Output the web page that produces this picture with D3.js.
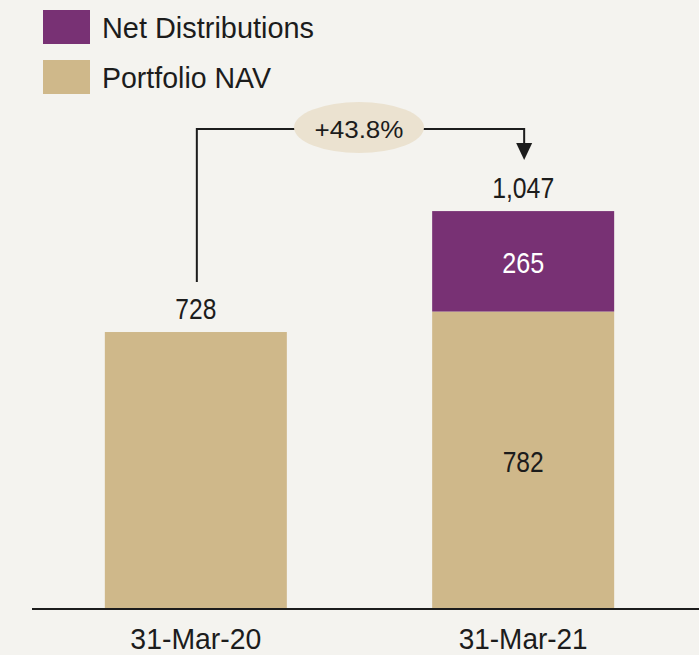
<!DOCTYPE html>
<html>
<head>
<meta charset="utf-8">
<script src="https://cdn.jsdelivr.net/npm/d3@7"></script>
<style>
  body { margin: 0; background: #f4f3ef; }
  svg text { font-family: "Liberation Sans", Arial, sans-serif; fill: #1c1c1c; }
</style>
</head>
<body>
<script>
const categories = ["31-Mar-20", "31-Mar-21"];
const portfolioNav = [728, 782];
const netDistributions = [0, 265];
const totalLabels = ["728", "1,047"];
const changeLabel = "+43.8%";
const seriesNames = ["Net Distributions", "Portfolio NAV"];

(function () {
    const width = 699;
    const height = 655;
    const purple = "#783174";
    const tan = "#cfb88a";

    // condensed look: squeeze each text to the width it has in the reference
    const squeeze = {
        "Net Distributions": 212, "Portfolio NAV": 169,
        "31-Mar-20": 131, "31-Mar-21": 129,
        "728": 41, "1,047": 62, "265": 42, "782": 41, "+43.8%": 89
    };
    function condense(sel) {
        sel.each(function () {
            let t = d3.select(this).text();
            if (squeeze[t]) {
                d3.select(this)
                    .attr("textLength", squeeze[t])
                    .attr("lengthAdjust", "spacingAndGlyphs");
            }
        });
    }

    let svg = d3.select("body")
        .append("svg")
        .attr("width", width)
        .attr("height", height);

    svg.append("rect")
        .attr("width", width)
        .attr("height", height)
        .attr("fill", "#f4f3ef");

    let rows = categories.map((c, i) => ({cat: c, nav: portfolioNav[i], dist: netDistributions[i]}));
    let stacked = d3.stack().keys(["nav", "dist"])(rows);

    let x = d3.scaleBand()
        .domain(categories)
        .range([23, 696])
        .paddingInner(0.444)
        .paddingOuter(0.25);

    let y = d3.scaleLinear()
        .domain([0, 1100])
        .range([608, 191]);

    let colors = {nav: tan, dist: purple};

    svg.selectAll(".layer")
        .data(stacked)
        .enter()
        .append("g")
        .attr("class", "layer")
        .attr("fill", d => colors[d.key])
        .selectAll("rect")
        .data(d => d)
        .enter()
        .append("rect")
        .attr("x", d => x(d.data.cat))
        .attr("y", d => y(d[1]))
        .attr("width", x.bandwidth())
        .attr("height", d => y(d[0]) - y(d[1]));

    // labels inside the second bar
    let cx2 = x(categories[1]) + x.bandwidth() / 2;
    svg.append("text")
        .attr("x", cx2)
        .attr("y", (y(0) + y(portfolioNav[1])) / 2 + 12)
        .attr("text-anchor", "middle")
        .style("font-size", "30px")
        .text(portfolioNav[1])
        .call(condense);

    svg.append("text")
        .attr("x", cx2)
        .attr("y", (y(portfolioNav[1]) + y(portfolioNav[1] + netDistributions[1])) / 2 + 12)
        .attr("text-anchor", "middle")
        .style("font-size", "30px")
        .style("fill", "#ffffff")
        .text(netDistributions[1])
        .call(condense);

    // totals on top
    svg.selectAll(".total")
        .data(rows)
        .enter()
        .append("text")
        .attr("class", "total")
        .attr("x", d => x(d.cat) + x.bandwidth() / 2)
        .attr("y", d => y(d.nav + d.dist) - 13)
        .attr("text-anchor", "middle")
        .style("font-size", "30px")
        .text((d, i) => totalLabels[i])
        .call(condense);

    // baseline + category axis
    svg.append("line")
        .attr("x1", 32)
        .attr("x2", width)
        .attr("y1", y(0) + 1)
        .attr("y2", y(0) + 1)
        .attr("stroke", "#1c1c1c")
        .attr("stroke-width", 2);

    let xAxis = d3.axisBottom(x).tickSize(0).tickPadding(0);
    let axisG = svg.append("g")
        .attr("transform", `translate(0, ${y(0)})`)
        .call(xAxis);
    axisG.select(".domain").remove();
    axisG.selectAll("text")
        .attr("dy", null)
        .attr("y", 41)
        .attr("fill", null)
        .style("font-size", "29px")
        .call(condense);

    // growth bracket
    let xl = x(categories[0]) + x.bandwidth() / 2 + 1;
    let xr = x(categories[1]) + x.bandwidth() / 2 + 1;
    let topY = 129;
    let cx = 359;
    svg.append("path")
        .attr("d", `M${xl},282 V${topY} H${cx - 60} M${cx + 60},${topY} H${xr} V146`)
        .attr("fill", "none")
        .attr("stroke", "#1c1c1c")
        .attr("stroke-width", 2);

    svg.append("path")
        .attr("d", `M${xr - 8},143 L${xr + 8},143 L${xr},160 Z`)
        .attr("fill", "#1c1c1c");

    svg.append("ellipse")
        .attr("cx", cx)
        .attr("cy", 127.5)
        .attr("rx", 65)
        .attr("ry", 25.5)
        .attr("fill", "#ebe2d0");

    svg.append("text")
        .attr("x", cx)
        .attr("y", 138)
        .attr("text-anchor", "middle")
        .style("font-size", "24px")
        .text(changeLabel)
        .call(condense);

    // legend
    let legend = svg.selectAll(".legend")
        .data(seriesNames)
        .enter()
        .append("g")
        .attr("class", "legend")
        .attr("transform", (d, i) => `translate(43, ${10 + i * 50})`);

    legend.append("rect")
        .attr("width", 47)
        .attr("height", 34)
        .attr("fill", (d, i) => i === 0 ? purple : tan);

    legend.append("text")
        .attr("x", 59)
        .attr("y", 28)
        .style("font-size", "30px")
        .text(d => d)
        .call(condense);
})();
</script>
</body>
</html>
